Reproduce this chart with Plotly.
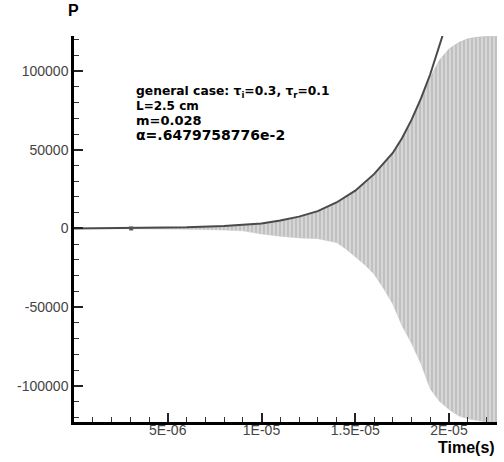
import plotly.graph_objects as go

# envelope curve (dark line)
t_curve = [0, 2e-6, 4e-6, 6e-6, 8e-6, 1.0e-5, 1.1e-5, 1.2e-5, 1.3e-5, 1.4e-5, 1.5e-5,
           1.6e-5, 1.7e-5, 1.75e-5, 1.8e-5, 1.85e-5, 1.9e-5, 1.95e-5, 1.975e-5]
p_curve = [0, 100, 300, 700, 1500, 3200, 5000, 7500, 11000, 16500, 24000,
           34500, 48000, 57500, 69000, 82500, 98000, 116000, 126000]

# oscillating pressure signal: upper / lower extremes
t_osc = [0, 2e-6, 4e-6, 6e-6, 8e-6, 9e-6, 1.0e-5, 1.1e-5, 1.2e-5, 1.3e-5, 1.4e-5, 1.45e-5,
         1.5e-5, 1.55e-5, 1.6e-5, 1.65e-5, 1.7e-5, 1.75e-5, 1.8e-5, 1.85e-5, 1.9e-5,
         1.95e-5, 2.0e-5, 2.05e-5, 2.1e-5, 2.15e-5, 2.2e-5, 2.256e-5]
p_hi = [0, 100, 300, 700, 1500, 2200, 3200, 5000, 7500, 11000, 16500, 20000,
        24000, 29000, 34500, 41000, 48000, 57500, 69000, 82000, 96000,
        107000, 114000, 118000, 120500, 121500, 122000, 122000]
p_lo = [0, -100, -250, -500, -1000, -1500, -3500, -5000, -6000, -6500, -9000, -13000,
        -18000, -23000, -29000, -38000, -48000, -62000, -73000, -86000, -102000,
        -110000, -115000, -119000, -121000, -122000, -123000, -123000]

t_mark = [3.05e-6]
p_mark = [0]

x_tickvals = [5e-6, 1e-5, 1.5e-5, 2e-5]
x_ticktext = ["5E-06", "1E-05", "1.5E-05", "2E-05"]
y_tickvals = [-100000, -50000, 0, 50000, 100000]
y_ticktext = ["-100000", "-50000", "0", "50000", "100000"]

fig = go.Figure()
fig.add_trace(go.Scatter(x=t_osc, y=p_lo, mode="lines", line=dict(color="#c8c8c8", width=0.5),
                         showlegend=False, hoverinfo="skip"))
fig.add_trace(go.Scatter(x=t_osc, y=p_hi, mode="lines", line=dict(color="#b0b0b0", width=0.5),
                         fill="tonexty", fillcolor="#d2d2d2",
                         fillpattern=dict(shape="|", size=4, solidity=0.35,
                                          fgcolor="#9a9a9a", bgcolor="#d6d6d6"),
                         showlegend=False, hoverinfo="skip"))
fig.add_trace(go.Scatter(x=t_curve, y=p_curve, mode="lines", line=dict(color="#4a4a4a", width=2),
                         showlegend=False, hoverinfo="skip"))
fig.add_trace(go.Scatter(x=t_mark, y=p_mark, mode="markers",
                         marker=dict(symbol="square", size=4, color="#555555"),
                         showlegend=False, hoverinfo="skip"))

tickfont = dict(family="Liberation Sans, Arial, sans-serif", size=14, color="#444444")
fig.update_layout(
    width=504, height=462,
    margin=dict(l=74, r=7, t=36, b=40, autoexpand=False),
    paper_bgcolor="white", plot_bgcolor="white",
    xaxis=dict(range=[0, 2.256e-5], showgrid=False, zeroline=False, automargin=False,
               showline=True, linecolor="black", linewidth=2.5,
               tickmode="array", tickvals=x_tickvals, ticktext=x_ticktext,
               ticks="inside", ticklen=9, tickwidth=2, tickcolor="#222222",
               tickfont=tickfont, ticklabelstandoff=-7,
               minor=dict(tickmode="linear", tick0=0, dtick=1e-6, ticks="inside",
                          ticklen=5, tickwidth=1.2, tickcolor="#333333")),
    yaxis=dict(range=[-123000, 122300], showgrid=False, zeroline=False, automargin=False,
               showline=True, linecolor="black", linewidth=2.5,
               tickmode="array", tickvals=y_tickvals, ticktext=y_ticktext,
               ticks="inside", ticklen=9, tickwidth=2, tickcolor="#222222",
               tickfont=tickfont,
               minor=dict(tickmode="linear", tick0=0, dtick=10000, ticks="inside",
                          ticklen=5, tickwidth=1.2, tickcolor="#333333")),
)

fig.add_annotation(text="<b>P</b>", xref="paper", yref="paper", x=-0.002, y=1.065,
                   xanchor="center", yanchor="middle", showarrow=False,
                   font=dict(family="Liberation Sans, Arial, sans-serif", size=16, color="black"))
fig.add_annotation(text="<b>Time(s)</b>", xref="paper", yref="paper", x=1.0, y=-0.067,
                   xanchor="right", yanchor="middle", showarrow=False,
                   font=dict(family="Liberation Sans, Arial, sans-serif", size=16, color="black"))
lines = ["general case: τ<sub>i</sub>=0.3, τ<sub>r</sub>=0.1", "L=2.5 cm", "m=0.028",
         "α=.6479758776e-2"]
ys = [0.8557, 0.8187, 0.7806, 0.7435]
sizes = [12.3, 12, 13, 14]
for txt, yy, sz in zip(lines, ys, sizes):
    fig.add_annotation(text="<b>" + txt + "</b>", xref="paper", yref="paper", x=0.142, y=yy,
                       xanchor="left", yanchor="middle", showarrow=False,
                       font=dict(family="DejaVu Sans, sans-serif", size=sz, color="black"))

# remove the default 8px page margin so the figure sits at the window's corner
fig.write_html("out.html", config={"displayModeBar": False},
               post_script="document.body.style.margin='0px';")
